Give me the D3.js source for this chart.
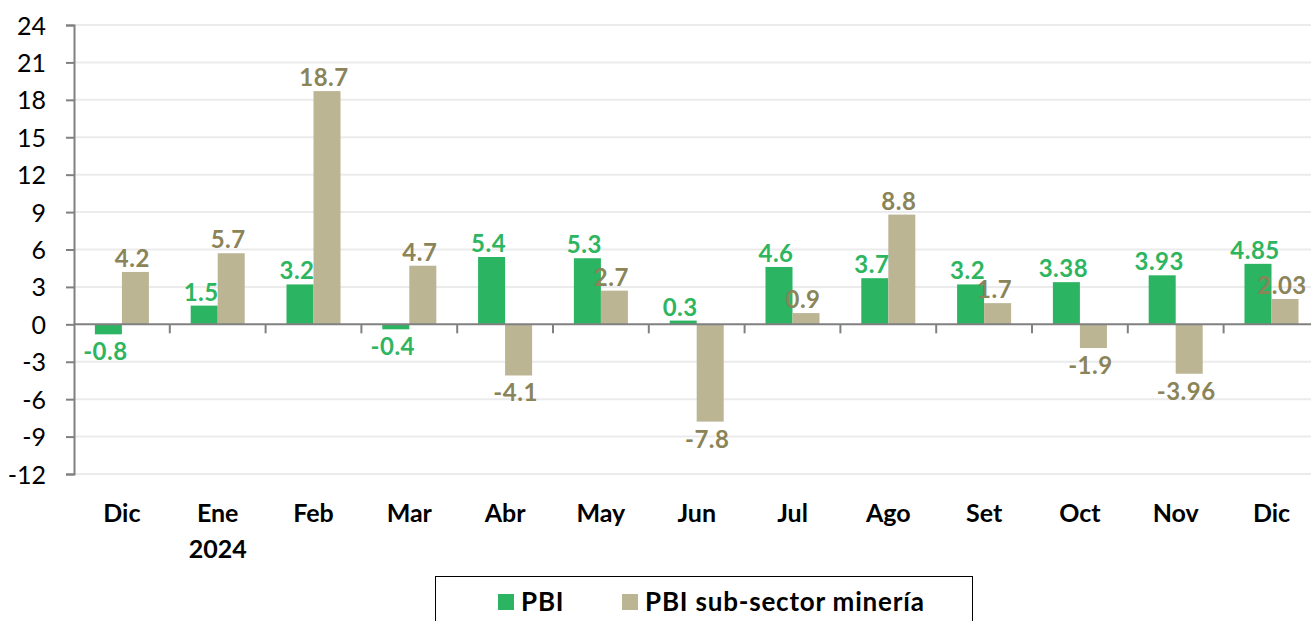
<!DOCTYPE html>
<html>
<head>
<meta charset="utf-8">
<script src="https://cdn.jsdelivr.net/npm/d3@7"></script>
<style>
body { margin: 0; background: #fff; }
svg text { font-family: Lato, "Open Sans", sans-serif; }
</style>
</head>
<body>
<svg id="chart" width="1311" height="621"></svg>
<script>
// months shown on the axis
var months = ['Dic', 'Ene', 'Feb', 'Mar', 'Abr', 'May', 'Jun', 'Jul', 'Ago', 'Set', 'Oct', 'Nov', 'Dic'];
var years = ['', '2024', '', '', '', '', '', '', '', '', '', '', ''];
var pbi = [-0.8, 1.5, 3.2, -0.4, 5.4, 5.3, 0.3, 4.6, 3.7, 3.2, 3.38, 3.93, 4.85];
var mineria = [4.2, 5.7, 18.7, 4.7, -4.1, 2.7, -7.8, 0.9, 8.8, 1.7, -1.9, -3.96, 2.03];
var yTicks = [-12, -9, -6, -3, 0, 3, 6, 9, 12, 15, 18, 21, 24];
var seriesNames = ['PBI', 'PBI sub-sector minería'];

var colors = ['#2BB562', '#BBB594'];
var labelColors = ['#2DB560', '#8A8458'];

var svg = d3.select('#chart');
var plotLeft = 74, plotTop = 25, plotBottom = 474;
var step = 95.8;

var y = d3.scaleLinear().domain([-12, 24]).range([plotBottom, plotTop]);
var x = d3.scaleBand()
	.domain(d3.range(months.length))
	.range([plotLeft, plotLeft + step * months.length])
	.paddingInner(0.436)
	.paddingOuter(0.218);
var sub = d3.scaleBand().domain([0, 1]).range([0, x.bandwidth()]);

// grid
svg.append('g').selectAll('line')
	.data(yTicks.filter(function(d){ return d !== 0; }))
	.enter().append('line')
	.attr('x1', plotLeft).attr('x2', 1311)
	.attr('y1', function(d){ return y(d); })
	.attr('y2', function(d){ return y(d); })
	.attr('stroke', '#EBEBEB').attr('stroke-width', 2);

// y axis
var yAxis = d3.axisLeft(y).tickValues(yTicks).tickSize(8).tickPadding(20)
	.tickFormat(function(d){ return String(d); });
var ga = svg.append('g').attr('transform', 'translate(' + plotLeft + ',0)').call(yAxis);
ga.select('.domain').attr('stroke', '#808080').attr('stroke-width', 2);
ga.selectAll('.tick line').attr('stroke', '#808080').attr('stroke-width', 2);
ga.selectAll('.tick text')
	.attr('font-size', 25).attr('fill', '#000')
	.attr('dy', '0.36em')
	.style('font-family', 'Lato, sans-serif');

// bars
var rows = months.map(function(m, i){ return [pbi[i], mineria[i]]; });
var groups = svg.append('g').selectAll('g')
	.data(rows).enter().append('g')
	.attr('transform', function(d, i){ return 'translate(' + x(i) + ',0)'; });

groups.selectAll('rect')
	.data(function(d){ return d; })
	.enter().append('rect')
	.attr('x', function(d, j){ return sub(j); })
	.attr('width', sub.bandwidth())
	.attr('y', function(d){ return y(Math.max(0, d)); })
	.attr('height', function(d){ return Math.abs(y(d) - y(0)); })
	.attr('fill', function(d, j){ return colors[j]; });

groups.selectAll('text')
	.data(function(d){ return d; })
	.enter().append('text')
	.attr('x', function(d, j){ return sub(j) + sub.bandwidth() / 2 - 3; })
	.attr('y', function(d){ return d >= 0 ? y(d) - 5 : y(d) + 26; })
	.attr('text-anchor', 'middle')
	.attr('font-size', 24).attr('font-weight', 'bold')
	.attr('letter-spacing', 0.5)
	.attr('fill', function(d, j){ return labelColors[j]; })
	.text(function(d){ return d; });

// zero line with category ticks
svg.append('line')
	.attr('x1', plotLeft).attr('x2', 1311)
	.attr('y1', y(0)).attr('y2', y(0))
	.attr('stroke', '#808080').attr('stroke-width', 2);
svg.append('g').selectAll('line')
	.data(d3.range(1, months.length))
	.enter().append('line')
	.attr('x1', function(i){ return plotLeft + step * i; })
	.attr('x2', function(i){ return plotLeft + step * i; })
	.attr('y1', y(0)).attr('y2', y(0) + 9)
	.attr('stroke', '#808080').attr('stroke-width', 2);

// category labels
var cats = svg.append('g');
cats.selectAll('text.m')
	.data(months).enter().append('text')
	.attr('class', 'm')
	.attr('x', function(d, i){ return x(i) + x.bandwidth() / 2; })
	.attr('y', 522)
	.attr('text-anchor', 'middle')
	.attr('font-size', 25).attr('font-weight', 'bold')
	.text(function(d){ return d; });
cats.selectAll('text.yr')
	.data(years).enter().append('text')
	.attr('class', 'yr')
	.attr('x', function(d, i){ return x(i) + x.bandwidth() / 2; })
	.attr('y', 558)
	.attr('text-anchor', 'middle')
	.attr('font-size', 25).attr('font-weight', 'bold')
	.text(function(d){ return d; });

// legend
svg.append('rect')
	.attr('x', 435.5).attr('y', 576.5)
	.attr('width', 537).attr('height', 60)
	.attr('fill', 'none').attr('stroke', '#000').attr('stroke-width', 1);
var legX = [498, 622];
var leg = svg.append('g').selectAll('g')
	.data(seriesNames).enter().append('g')
	.attr('transform', function(d, i){ return 'translate(' + legX[i] + ',594)'; });
leg.append('rect')
	.attr('width', 16).attr('height', 16)
	.attr('fill', function(d, i){ return colors[i]; });
leg.append('text')
	.attr('x', 23).attr('y', 17)
	.attr('font-size', 26).attr('font-weight', 'bold')
	.attr('letter-spacing', 0.8)
	.text(function(d){ return d; });
</script>
</body>
</html>
